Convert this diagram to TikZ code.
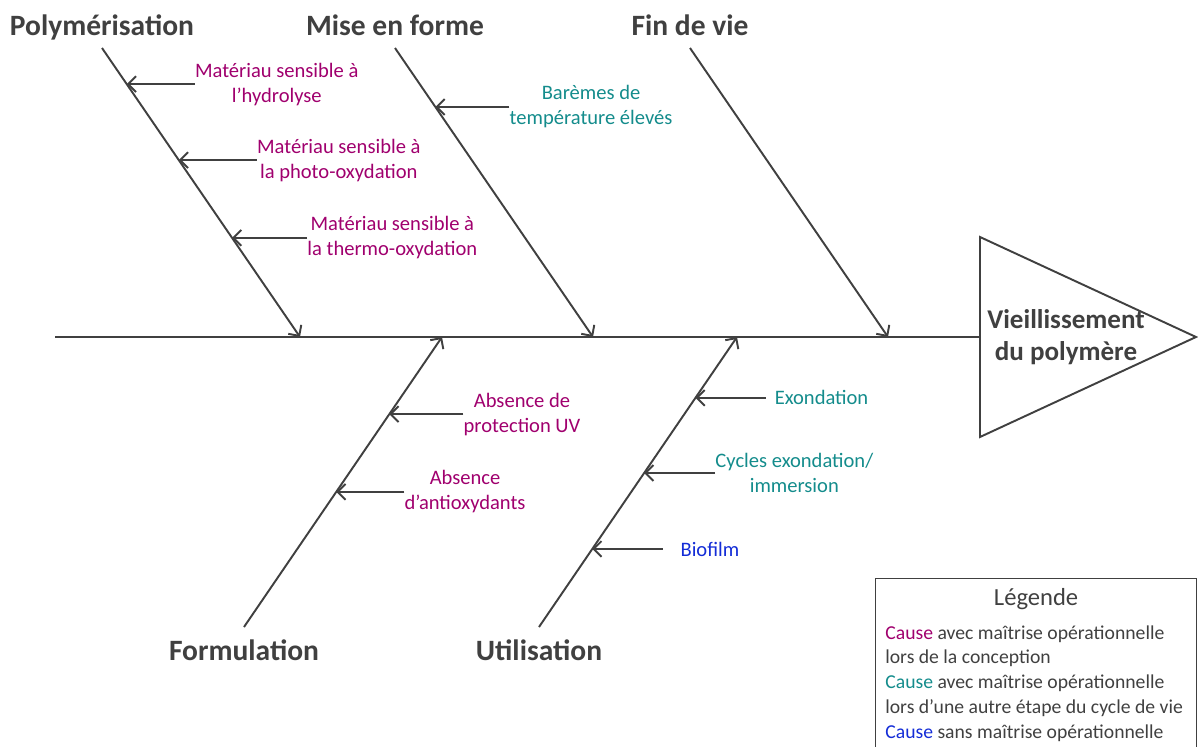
\documentclass[tikz,border=0pt]{standalone}
\usepackage{fontspec}
\setmainfont{Carlito}
\usetikzlibrary{arrows.meta,calc,positioning}
\definecolor{trait}{RGB}{64,64,64}
\definecolor{conception}{RGB}{160,0,110}
\definecolor{autreetape}{RGB}{20,140,140}
\definecolor{sansmaitrise}{RGB}{20,45,215}
\tikzset{
    %Define standard arrow tip
    >={Straight Barb[length=4.5pt,width=9pt]},
    %Define style for category titles
    famille/.style={
           inner sep=0pt,
           font=\fontsize{16.8}{20}\selectfont\bfseries,
           text=trait},
    %Define style for causes
    cause/.style={
           inner sep=0pt,
           align=center,
           font=\fontsize{11.7}{14.2}\selectfont},
    %Define style for the effect
    effet/.style={
           inner sep=0pt,
           align=center,
           font=\fontsize{15.4}{18}\selectfont\bfseries,
           text=trait},
    %Define style for the legend
    legende/.style={
           rectangle,
           draw=trait, line width=0.7pt,
           minimum width=6.42cm,
           minimum height=3.6cm},
    legtexte/.style={
           inner sep=0pt,
           align=left,
           font=\fontsize{11.2}{14.2}\selectfont,
           text=trait},
    % Define line and arrow styles
    arete/.style={
           line width=1.1pt,
           draw=trait},
    fleche/.style={
           ->,
           line width=1.1pt,
           draw=trait}
}
\begin{document}
\begin{tikzpicture}[x=0.02cm,y=-0.02cm,node distance=1.4cm]
\useasboundingbox (0,0) rectangle (1198,747);
% spine and head
\coordinate (queue) at (55,337);
\coordinate (tete) at (980,337);
\coordinate (haut) at (980,237);
\coordinate (bas) at (980,437);
\coordinate (pointe) at (1196,337);
\draw[arete] (haut) -- (pointe) -- (bas) -- cycle;
\draw[arete] (queue) -- (tete);
\node[effet] (vieil) at (1066,337) {Vieillissement\\du polymère};
% bones
\coordinate (p0) at (102,48);  \coordinate (p1) at (300,337);
\coordinate (m0) at (395,48);  \coordinate (m1) at (593,337);
\coordinate (v0) at (690,48);  \coordinate (v1) at (888,337);
\coordinate (f0) at (244,627); \coordinate (f1) at (442,337);
\coordinate (u0) at (539,627); \coordinate (u1) at (737,337);
\foreach \a/\b in {p0/p1,m0/m1,v0/v1,f0/f1,u0/u1}
    \draw[fleche] (\a) -- (\b);
\node[famille, above=0.26cm of p0, anchor=base] (polym) {Polymérisation};
\node[famille, above=0.26cm of m0, anchor=base] (mise) {Mise en forme};
\node[famille, above=0.26cm of v0, anchor=base] (fin) {Fin de vie};
\node[famille, below=0.25cm of f0] (formu) {Formulation};
\node[famille, below=0.25cm of u0] (util) {Utilisation};
% causes on the bones
\coordinate (hp1) at ($(p0)!0.125!(p1)$);
\coordinate (hp2) at ($(p0)!0.388!(p1)$);
\coordinate (hp3) at ($(p0)!0.657!(p1)$);
\coordinate (hm1) at ($(m0)!0.204!(m1)$);
\coordinate (hf1) at ($(f0)!0.734!(f1)$);
\coordinate (hf2) at ($(f0)!0.466!(f1)$);
\coordinate (hu1) at ($(u0)!0.790!(u1)$);
\coordinate (hu2) at ($(u0)!0.531!(u1)$);
\coordinate (hu3) at ($(u0)!0.269!(u1)$);
\node[cause, text=conception, right=1.36cm of hp1] (hydro) {Matériau sensible à\\l’hydrolyse};
\node[cause, text=conception, right=1.56cm of hp2] (photo) {Matériau sensible à\\la photo-oxydation};
\node[cause, text=conception, right=1.5cm of hp3] (thermo) {Matériau sensible à\\la thermo-oxydation};
\node[cause, text=autreetape, right=1.48cm of hm1] (bareme) {Barèmes de\\température élevés};
\node[cause, text=conception, right=1.48cm of hf1] (uv) {Absence de\\protection UV};
\node[cause, text=conception, right=1.36cm of hf2] (antiox) {Absence\\d’antioxydants};
\node[cause, text=autreetape, right=1.58cm of hu1] (exond) {Exondation};
\node[cause, text=autreetape, right=1.42cm of hu2] (cycles) {Cycles exondation/\\immersion};
\node[cause, text=sansmaitrise, right=1.76cm of hu3] (biofilm) {Biofilm};
\foreach \c/\h in {hydro/hp1,photo/hp2,thermo/hp3,bareme/hm1,uv/hf1,antiox/hf2,cycles/hu2}
    \draw[fleche] (\c.west) -- (\h);
\draw[fleche, shorten <=5pt] (exond.west) -- (hu1);
\draw[fleche, shorten <=10pt] (biofilm.west) -- (hu3);
% legend
\node[legende, anchor=north west] (leg) at (875,578) {};
\node[below=0.2cm of leg.north, inner sep=0pt, font=\fontsize{14}{17}\selectfont, text=trait] (legtitre) {Légende};
\node[legtexte, below right=0.94cm and 0.2cm of leg.north west] (legcorps) {%
\textcolor{conception}{Cause} avec maîtrise opérationnelle\\
lors de la conception\\
\textcolor{autreetape}{Cause} avec maîtrise opérationnelle\\
lors d’une autre étape du cycle de vie\\
\textcolor{sansmaitrise}{Cause} sans maîtrise opérationnelle};
\end{tikzpicture}
\end{document}
